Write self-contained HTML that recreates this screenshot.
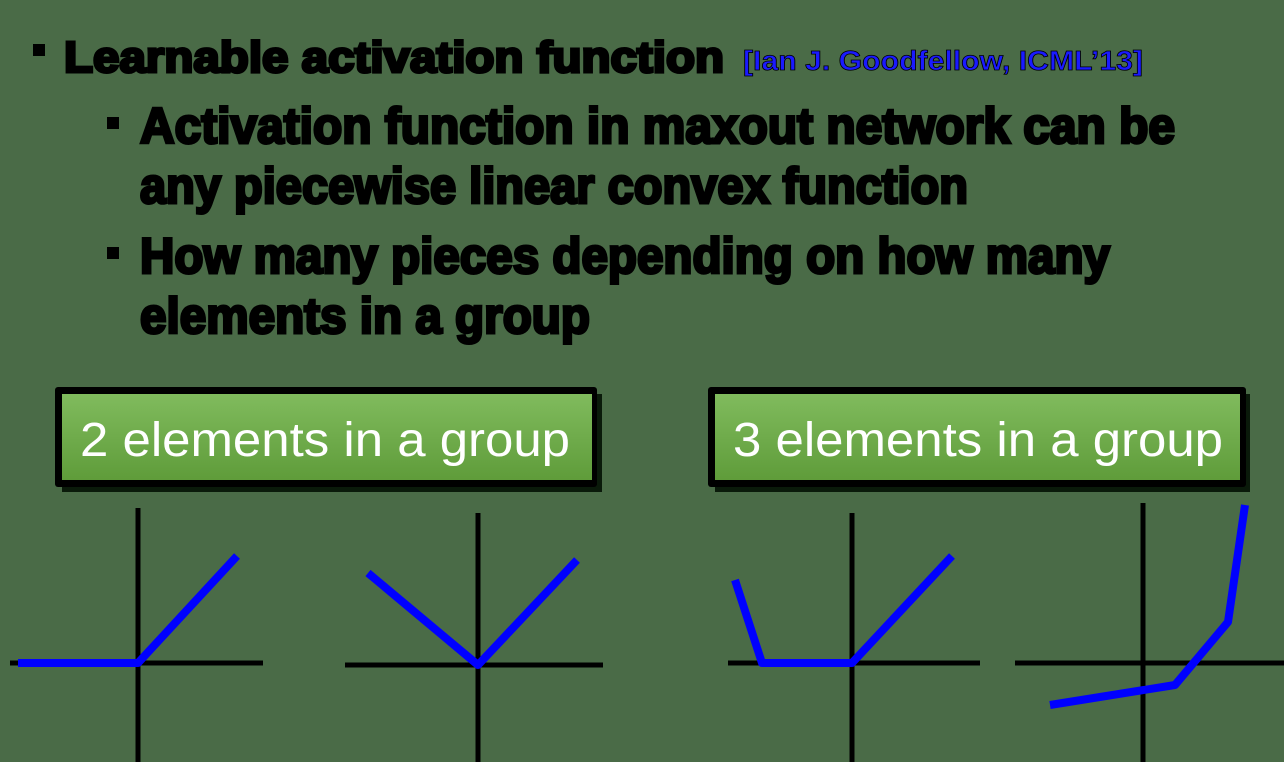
<!DOCTYPE html>
<html><head><style>
html,body{margin:0;padding:0;background:#4a6b47;}
svg{display:block}
</style></head><body>
<svg width="1284" height="762" viewBox="0 0 1284 762" xmlns="http://www.w3.org/2000/svg">
<defs>
<linearGradient id="g" x1="0" y1="0" x2="0" y2="1">
<stop offset="0" stop-color="#80bb5d"/><stop offset="1" stop-color="#5f9c3a"/>
</linearGradient>
</defs>
<rect width="1284" height="762" fill="#4a6b47"/>
<g font-family="Liberation Sans, sans-serif" font-weight="bold" fill="#000" stroke="#000" stroke-width="3">
<rect x="33" y="44" width="12" height="12" stroke="none"/>
<text x="64" y="72" font-size="44" textLength="660" lengthAdjust="spacingAndGlyphs">Learnable activation function</text>
<rect x="107" y="117" width="12" height="12" stroke="none"/>
<text x="140" y="143" font-size="50" textLength="1035" lengthAdjust="spacingAndGlyphs">Activation function in maxout network can be</text>
<text x="140" y="203" font-size="50" textLength="828" lengthAdjust="spacingAndGlyphs">any piecewise linear convex function</text>
<rect x="107" y="247" width="12" height="12" stroke="none"/>
<text x="140" y="273" font-size="50" textLength="970" lengthAdjust="spacingAndGlyphs">How many pieces depending on how many</text>
<text x="140" y="333" font-size="50" textLength="450" lengthAdjust="spacingAndGlyphs">elements in a group</text>
</g>
<text x="743" y="70" font-family="Liberation Sans, sans-serif" font-weight="bold" font-size="28" fill="#1a1aff" stroke="#000" stroke-width="0.8" textLength="400" lengthAdjust="spacingAndGlyphs">[Ian J. Goodfellow, ICML’13]</text>

<rect x="62" y="394" width="540" height="98" fill="#0a1a0a"/>
<rect x="55" y="387" width="542" height="100" fill="#000" rx="3"/>
<rect x="62" y="394" width="530" height="86" fill="url(#g)"/>
<text x="80" y="456" font-family="Liberation Sans, sans-serif" font-size="48" fill="#fff" textLength="490" lengthAdjust="spacingAndGlyphs">2 elements in a group</text>

<rect x="715" y="394" width="535" height="98" fill="#0a1a0a"/>
<rect x="708" y="387" width="538" height="100" fill="#000" rx="3"/>
<rect x="715" y="394" width="525" height="86" fill="url(#g)"/>
<text x="733" y="456" font-family="Liberation Sans, sans-serif" font-size="48" fill="#fff" textLength="490" lengthAdjust="spacingAndGlyphs">3 elements in a group</text>

<g stroke="#000" stroke-width="5" fill="none">
<line x1="10" y1="663" x2="263" y2="663"/><line x1="138" y1="508" x2="138" y2="762"/>
<line x1="345" y1="665" x2="603" y2="665"/><line x1="478" y1="513" x2="478" y2="762"/>
<line x1="728" y1="663" x2="980" y2="663"/><line x1="852" y1="513" x2="852" y2="762"/>
<line x1="1015" y1="663" x2="1284" y2="663"/><line x1="1143" y1="503" x2="1143" y2="762"/>
</g>
<g stroke="#0000ff" stroke-width="8" fill="none" stroke-linejoin="round">
<polyline points="18,663 138,663 237,556"/>
<polyline points="368,573 478,665 577,560"/>
<polyline points="735,580 762,663 852,663 952,556"/>
<polyline points="1050,705 1175,685 1228,622 1245,505"/>
</g>
</svg>
</body></html>
